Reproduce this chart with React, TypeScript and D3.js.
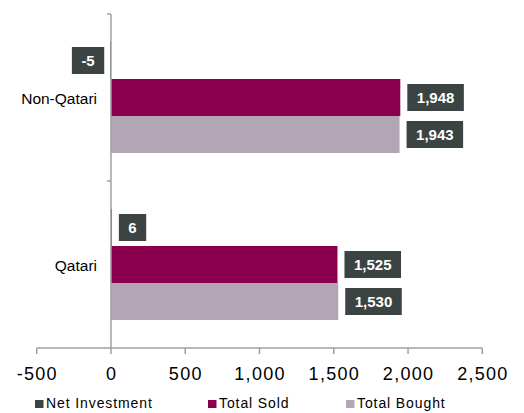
import React, { useEffect, useRef } from 'react';
import * as d3 from 'd3';

const categories = ['Non-Qatari', 'Qatari'];
const seriesNames = ['Net Investment', 'Total Sold', 'Total Bought'];
const netInvestment = [-5, 6];
const totalSold = [1948, 1525];
const totalBought = [1943, 1530];
const xTicks = [-500, 0, 500, 1000, 1500, 2000, 2500];

const colors: Record<string, string> = {
    'Net Investment': '#3b4442',
    'Total Sold': '#8a004f',
    'Total Bought': '#b3a6b4',
};

// plain hyphen for negatives, like the original
const fmt = d3.formatLocale({
    decimal: '.',
    thousands: ',',
    grouping: [3],
    currency: ['', ''],
    minus: '-',
}).format(',');

const App: React.FC = () => {
    const svgRef = useRef<SVGSVGElement>(null);

    useEffect(() => {
        if (!svgRef.current) return;
        const width = 524;
        const height = 413;
        const font = "'Liberation Sans', Arial, sans-serif";
        const axisColor = '#a0a0a0';

        const svg = d3.select(svgRef.current);
        svg.selectAll('*').remove();
        svg.attr('width', width).attr('height', height);

        const x = d3.scaleLinear().domain([-500, 2500]).range([36.7, 482.3]);
        const y = d3.scaleBand<string>().domain(categories).range([14, 348]);
        const ySub = d3.scaleBand<string>()
            .domain(seriesNames)
            .range([0, y.bandwidth()])
            .paddingInner(0)
            .paddingOuter(0.757);

        const rows = categories.map((c, i) => ({
            category: c,
            values: [netInvestment[i], totalSold[i], totalBought[i]],
        }));

        // bars
        const groups = svg.selectAll('g.cat')
            .data(rows)
            .enter()
            .append('g')
            .attr('class', 'cat')
            .attr('transform', d => `translate(0, ${y(d.category)})`);

        groups.selectAll('rect')
            .data(d => d.values.map((v, j) => ({ name: seriesNames[j], value: v })))
            .enter()
            .append('rect')
            .attr('x', d => x(Math.min(0, d.value)))
            .attr('y', d => ySub(d.name)!)
            .attr('width', d => Math.abs(x(d.value) - x(0)))
            .attr('height', ySub.bandwidth())
            .attr('fill', d => colors[d.name]);

        // data labels in dark boxes
        groups.each(function (d) {
            const g = d3.select(this);
            d.values.forEach((v, j) => {
                const name = seriesNames[j];
                const cy = ySub(name)! + ySub.bandwidth() / 2;
                const txt = g.append('text')
                    .attr('font-family', font)
                    .attr('font-size', 15)
                    .attr('font-weight', 'bold')
                    .attr('fill', '#ffffff')
                    .attr('text-anchor', 'middle')
                    .attr('dominant-baseline', 'central')
                    .text(fmt(v));
                const tw = (txt.node() as SVGTextElement).getComputedTextLength();
                const bw = tw + 19;
                const bh = 27;
                const bx = v >= 0 ? x(v) + 7 : x(v) - 6 - bw;
                g.insert('rect', 'text')
                    .attr('x', bx)
                    .attr('y', cy - bh / 2)
                    .attr('width', bw)
                    .attr('height', bh)
                    .attr('fill', colors['Net Investment']);
                txt.attr('x', bx + bw / 2).attr('y', cy);
            });
        });

        // y axis
        svg.append('line')
            .attr('x1', x(0)).attr('x2', x(0))
            .attr('y1', 14).attr('y2', 348)
            .attr('stroke', axisColor).attr('stroke-width', 1.5);
        [14, y('Qatari')!].forEach(t => {
            svg.append('line')
                .attr('x1', x(0) - 4).attr('x2', x(0))
                .attr('y1', t).attr('y2', t)
                .attr('stroke', axisColor).attr('stroke-width', 1.5);
        });
        svg.selectAll('text.catlabel')
            .data(categories)
            .enter()
            .append('text')
            .attr('class', 'catlabel')
            .attr('x', 97)
            .attr('y', d => y(d)! + y.bandwidth() / 2 + 1)
            .attr('text-anchor', 'end')
            .attr('dominant-baseline', 'central')
            .attr('font-family', font)
            .attr('font-size', 15.5)
            .attr('fill', '#000')
            .text(d => d);

        // x axis
        svg.append('line')
            .attr('x1', x(-500)).attr('x2', x(2500))
            .attr('y1', 348).attr('y2', 348)
            .attr('stroke', axisColor).attr('stroke-width', 1.5);
        svg.selectAll('line.xtick')
            .data(xTicks)
            .enter()
            .append('line')
            .attr('class', 'xtick')
            .attr('x1', d => x(d)).attr('x2', d => x(d))
            .attr('y1', 348).attr('y2', 354)
            .attr('stroke', axisColor).attr('stroke-width', 1.5);
        svg.selectAll('text.xtick')
            .data(xTicks)
            .enter()
            .append('text')
            .attr('class', 'xtick')
            .attr('x', d => x(d) + 0.6)
            .attr('y', 380)
            .attr('text-anchor', 'middle')
            .attr('font-family', font)
            .attr('font-size', 18)
            .attr('letter-spacing', 1.3)
            .attr('fill', '#000')
            .text(d => fmt(d));

        // legend
        const legendX = [35, 208, 346];
        const legend = svg.selectAll('g.legend')
            .data(seriesNames)
            .enter()
            .append('g')
            .attr('class', 'legend')
            .attr('transform', (d, i) => `translate(${legendX[i]}, 400)`);
        legend.append('rect')
            .attr('width', 8.5).attr('height', 8)
            .attr('fill', d => colors[d]);
        legend.append('text')
            .attr('x', 11)
            .attr('y', 8.3)
            .attr('font-family', font)
            .attr('font-size', 14)
            .attr('letter-spacing', 0.9)
            .attr('fill', '#000')
            .text(d => d);
    }, []);

    return (
        <svg ref={svgRef} style={{ position: 'absolute', left: 0, top: 0 }}></svg>
    );
};

export default App;
